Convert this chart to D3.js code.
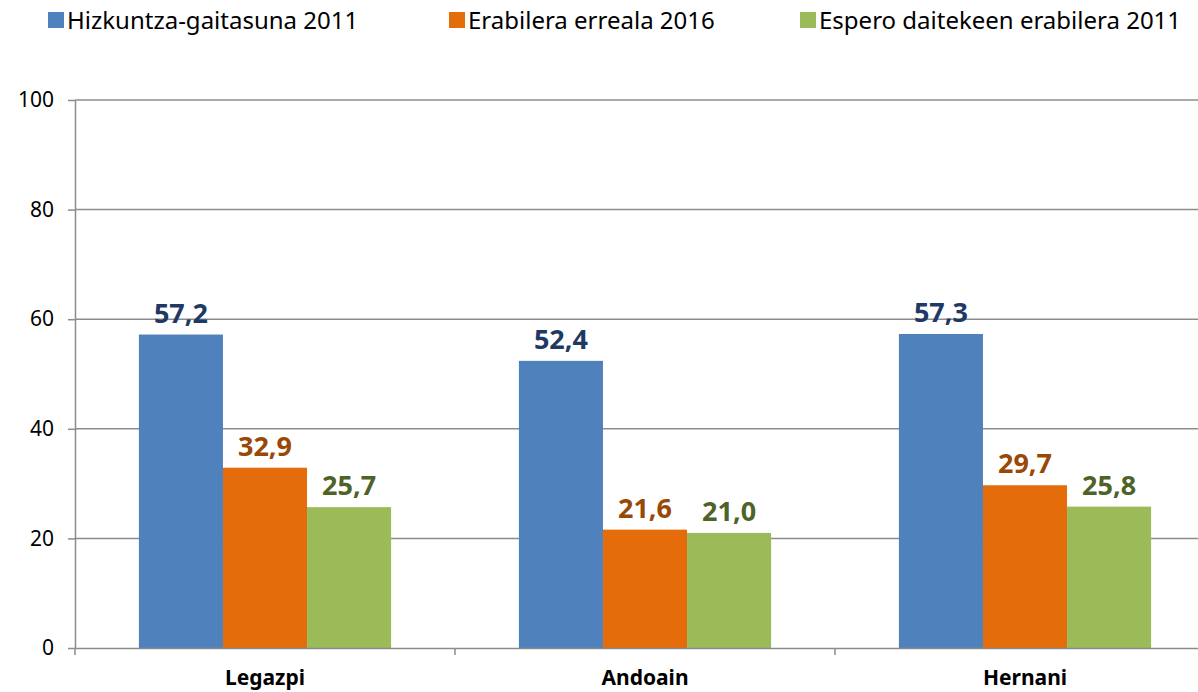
<!DOCTYPE html>
<html lang="eu">
<head>
<meta charset="UTF-8">
<title>Hizkuntza-gaitasuna eta erabilera</title>
<script src="https://d3js.org/d3.v7.min.js"></script>
<style>
    body { margin: 0; background: #fff; font-family: "Noto Sans", "Open Sans", sans-serif; }
    svg text { font-family: "Noto Sans", "Open Sans", sans-serif; }
</style>
</head>
<body>
<div id="chart"></div>
<script>
    // Chart data
    const towns = ["Legazpi", "Andoain", "Hernani"];
    const seriesNames = ["Hizkuntza-gaitasuna 2011", "Erabilera erreala 2016", "Espero daitekeen erabilera 2011"];
    const gaitasuna2011 = [57.2, 52.4, 57.3];
    const erabilera2016 = [32.9, 21.6, 29.7];
    const espero2011 = [25.7, 21.0, 25.8];
    const yTicks = [0, 20, 40, 60, 80, 100];

    const barColors = ["#4F81BD", "#E46C0A", "#9BBB59"];
    const labelColors = ["#1F3864", "#984807", "#4F6228"];

    const width = 1198, height = 692;
    const margin = { top: 100, left: 75, bottom: 44 };
    const plotW = 1140; // runs past the right edge like the original

    const svg = d3.select("#chart").append("svg")
        .attr("width", width)
        .attr("height", height);

    const x = d3.scaleBand().domain(towns).range([margin.left, margin.left + plotW]);
    const x1 = d3.scaleBand().domain(d3.range(3)).range([0, x.bandwidth()]).paddingOuter(0.76).paddingInner(0);
    const y = d3.scaleLinear().domain([0, 100]).range([height - margin.bottom, margin.top]);

    // gridlines
    svg.append("g")
        .selectAll("line")
        .data(yTicks.filter(d => d > 0))
        .join("line")
        .attr("x1", margin.left).attr("x2", width)
        .attr("y1", d => y(d)).attr("y2", d => y(d))
        .attr("stroke", "#8c8c8c")
        .attr("stroke-width", 1.5);

    // y axis
    const yAxis = svg.append("g")
        .attr("transform", `translate(${margin.left},0)`)
        .call(d3.axisLeft(y).tickValues(yTicks).tickSize(7).tickSizeOuter(0).tickPadding(14));
    yAxis.select(".domain").attr("stroke", "#8c8c8c").attr("stroke-width", 1.5);
    yAxis.selectAll(".tick line").attr("stroke", "#8c8c8c").attr("stroke-width", 1.5);
    yAxis.selectAll(".tick text").attr("font-size", 21).attr("fill", "#000");

    const series = [gaitasuna2011, erabilera2016, espero2011];

    // bars
    const groups = svg.append("g")
        .selectAll("g")
        .data(towns)
        .join("g")
        .attr("transform", d => `translate(${x(d)},0)`);

    groups.selectAll("rect")
        .data((t, i) => series.map((s, k) => ({ k, v: s[i] })))
        .join("rect")
        .attr("x", d => x1(d.k))
        .attr("width", x1.bandwidth())
        .attr("y", d => y(d.v))
        .attr("height", d => y(0) - y(d.v))
        .attr("fill", d => barColors[d.k]);

    groups.selectAll("text.val")
        .data((t, i) => series.map((s, k) => ({ k, v: s[i] })))
        .join("text")
        .attr("class", "val")
        .attr("x", d => x1(d.k) + x1.bandwidth() / 2)
        .attr("y", d => y(d.v) - 12)
        .attr("text-anchor", "middle")
        .attr("font-size", 27)
        .attr("font-weight", "bold")
        .attr("fill", d => labelColors[d.k])
        .text(d => d.v.toFixed(1).replace(".", ","));

    // x axis
    const xAxis = svg.append("g")
        .attr("transform", `translate(0,${y(0)})`)
        .call(d3.axisBottom(x).tickSize(0).tickPadding(22).tickSizeOuter(0));
    xAxis.select(".domain").attr("stroke", "#8c8c8c").attr("stroke-width", 1.5);
    xAxis.selectAll(".tick text").attr("font-size", 21).attr("font-weight", "bold").attr("fill", "#000");

    svg.append("g")
        .selectAll("line")
        .data(towns)
        .join("line")
        .attr("x1", d => x(d)).attr("x2", d => x(d))
        .attr("y1", y(0)).attr("y2", y(0) + 7)
        .attr("stroke", "#8c8c8c")
        .attr("stroke-width", 1.5);

    // legend
    const legendX = [48, 449, 800];
    const legend = svg.append("g")
        .selectAll("g")
        .data(seriesNames)
        .join("g")
        .attr("transform", (d, i) => `translate(${legendX[i]},12)`);
    legend.append("rect")
        .attr("width", 16).attr("height", 16)
        .attr("fill", (d, i) => barColors[i]);
    legend.append("text")
        .attr("x", 19).attr("y", 17)
        .attr("font-size", 24)
        .attr("fill", "#000")
        .text(d => d);
</script>
</body>
</html>
